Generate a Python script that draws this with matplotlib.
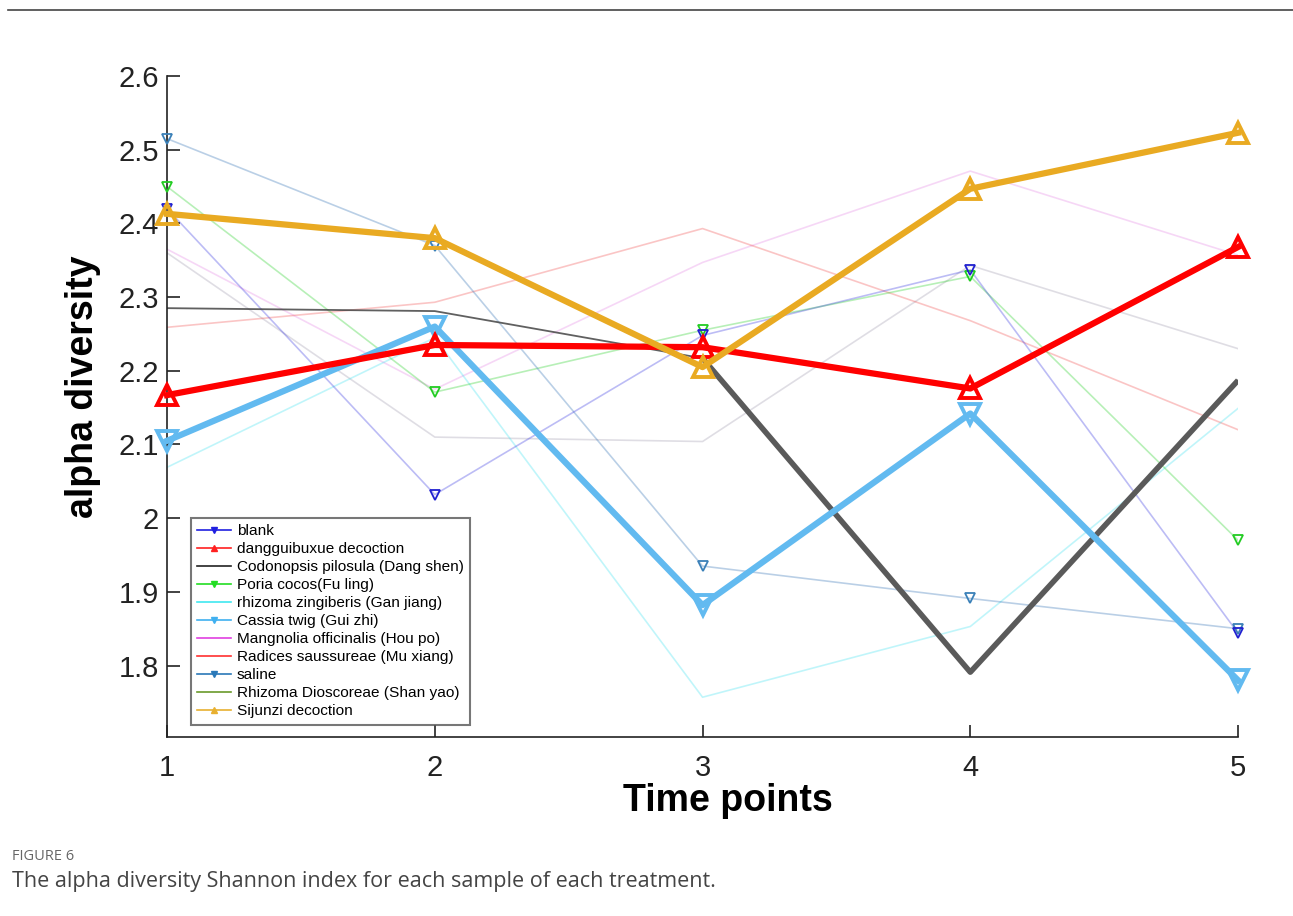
import matplotlib
matplotlib.use("Agg")
import matplotlib.pyplot as plt
from matplotlib.lines import Line2D

# ---------------- data ----------------
time_points = [1, 2, 3, 4, 5]
blank = [2.420, 2.032, 2.248, 2.337, 1.844]
dangguibuxue = [2.167, 2.235, 2.232, 2.176, 2.368]
codonopsis = [2.285, 2.281, 2.217, 1.791, 2.187]
poria = [2.450, 2.171, 2.255, 2.328, 1.970]
zingiberis = [2.069, 2.245, 1.757, 1.853, 2.149]
cassia = [2.105, 2.260, 1.882, 2.142, 1.780]
mangnolia = [2.365, 2.175, 2.347, 2.471, 2.357]
radices = [2.259, 2.293, 2.393, 2.268, 2.120]
saline = [2.515, 2.370, 1.935, 1.891, 1.850]
dioscoreae = [2.360, 2.110, 2.104, 2.343, 2.230]
sijunzi = [2.413, 2.380, 2.205, 2.447, 2.523]

labels = ["blank", "dangguibuxue decoction", "Codonopsis pilosula (Dang shen)",
          "Poria cocos(Fu ling)", "rhizoma zingiberis (Gan jiang)",
          "Cassia twig (Gui zhi)", "Mangnolia officinalis (Hou po)",
          "Radices saussureae (Mu xiang)", "saline",
          "Rhizoma Dioscoreae (Shan yao)", "Sijunzi decoction"]
yticks = [1.8, 1.9, 2.0, 2.1, 2.2, 2.3, 2.4, 2.5, 2.6]
ytick_labels = ["1.8", "1.9", "2", "2.1", "2.2", "2.3", "2.4", "2.5", "2.6"]

# ---------------- figure ----------------
plt.rcParams['font.family'] = ['Liberation Sans', 'DejaVu Sans']
fig = plt.figure(figsize=(12.93, 9.16), dpi=100)
ax = fig.add_axes([0.1292, 0.1954, 0.8283, 0.7216])

# thin faint series
ax.plot(time_points, mangnolia, color='#e070e0', alpha=0.28, lw=1.2, zorder=2)
ax.plot(time_points, dioscoreae, color='#b0acbc', alpha=0.4, lw=1.2, zorder=2)
ax.plot(time_points, radices, color='#f03030', alpha=0.28, lw=1.2, zorder=2)
ax.plot(time_points, zingiberis, color='#30e0f0', alpha=0.3, lw=1.2, zorder=2)
ax.plot(time_points, poria, color='#20d020', alpha=0.32, lw=1.2, zorder=2)
ax.plot(time_points, saline, color='#3a78b8', alpha=0.35, lw=1.2, zorder=2)
ax.plot(time_points, blank, color='#3030e0', alpha=0.32, lw=1.2, zorder=2)
ax.plot(time_points, codonopsis, color='#444444', alpha=0.85, lw=1.3, zorder=2)

# markers of thin series
ax.plot(time_points, poria, ls='none', marker='v', ms=7, mfc='none', mec='#22cc22',
        mew=1.3, zorder=3, clip_on=False)
ax.plot(time_points, saline, ls='none', marker='v', ms=7, mfc='none', mec='#3a80b8',
        mew=1.3, zorder=3, clip_on=False)
ax.plot(time_points, blank, ls='none', marker='v', ms=7, mfc='none', mec='#2020d0',
        mew=1.3, zorder=3, clip_on=False)

# thick highlighted series
ax.plot(time_points[2:], codonopsis[2:], color='#5a5a5a', lw=4, zorder=4, solid_capstyle='butt')
ax.plot(time_points, cassia, color='#62baf0', lw=4.5, marker='v', ms=15, mfc='none',
        mec='#62baf0', mew=2.8, zorder=5, clip_on=False)
ax.plot(time_points, dangguibuxue, color='#ff0000', lw=4.5, marker='^', ms=15, mfc='none',
        mec='#ff0000', mew=2.8, zorder=6, clip_on=False)
ax.plot(time_points, sijunzi, color='#e9aa22', lw=4.5, marker='^', ms=15, mfc='none',
        mec='#e9aa22', mew=2.8, zorder=7, clip_on=False)

# axes styling
ax.set_xlim(1, 5)
ax.set_ylim(1.703, 2.6)
ax.set_xticks(time_points)
ax.set_xticklabels([str(t) for t in time_points])
ax.set_yticks(yticks)
ax.set_yticklabels(ytick_labels)
for s in ['top', 'right']:
    ax.spines[s].set_visible(False)
for s in ['left', 'bottom']:
    ax.spines[s].set_linewidth(1.2)
    ax.spines[s].set_color('#222222')
ax.tick_params(direction='in', length=9, width=1.2, labelsize=21, pad=6, colors='#222222')
ax.tick_params(axis='x', pad=12)
ax.set_xlabel("Time points", fontsize=27, fontweight='bold')
ax.xaxis.set_label_coords(0.524, -0.07)
ax.set_ylabel("alpha diversity", fontsize=27, fontweight='bold')
ax.yaxis.set_label_coords(-0.0615, 0.53)

# legend
handle_specs = [('#2020e0', 'v'), ('#ff2020', '^'), ('#222222', None), ('#22dd22', 'v'),
                ('#40e8f0', None), ('#40b0f0', 'v'), ('#e040e0', None), ('#ff3030', None),
                ('#2a78b8', 'v'), ('#6a9a2a', None), ('#e8b030', '^')]
handles = [Line2D([0], [0], color=c, lw=1.2, marker=m if m else None, ms=5,
                  mfc=c, mec=c) for c, m in handle_specs]
leg = ax.legend(handles, labels, loc='upper left', bbox_to_anchor=(0.022, 0.331),
                fontsize=11.1, frameon=True, fancybox=False, edgecolor='#555555',
                handlelength=2.2, handletextpad=0.4, labelspacing=0.26,
                borderpad=0.4, borderaxespad=0)
leg.get_frame().set_linewidth(1.5)

# page decorations
fig.add_artist(Line2D([8 / 1293, 1], [1 - 10 / 916, 1 - 10 / 916], color='#444444', lw=1.2))
fig.text(12 / 1293, 1 - 857 / 916, "FIGURE 6", fontsize=10.5, color='#666666',
         family=['Open Sans', 'DejaVu Sans'], va='center', ha='left')
fig.text(12 / 1293, 1 - 881 / 916,
         "The alpha diversity Shannon index for each sample of each treatment.",
         fontsize=15.5, color='#444444', family=['Open Sans', 'DejaVu Sans'], va='center', ha='left')

fig.savefig("out.png", dpi=100)
